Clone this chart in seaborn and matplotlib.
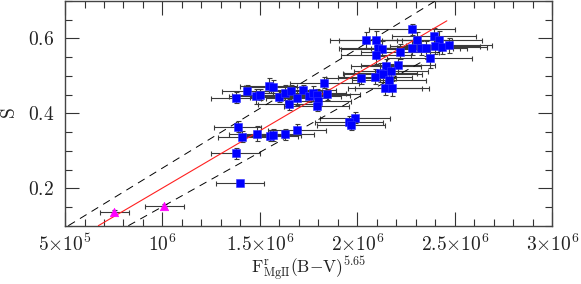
import numpy as np
import matplotlib
matplotlib.use("Agg")
import matplotlib.pyplot as plt
import seaborn as sns
from matplotlib.ticker import MultipleLocator, FixedLocator

# data (x in units of 1e6)
blue_x = [2.045, 2.097, 2.108, 2.126, 2.097, 2.217, 2.280, 2.305, 2.280, 2.325, 2.351, 2.391, 2.421, 2.399,
          2.434, 2.470, 2.370, 2.146, 2.207, 2.117, 2.130, 2.174, 2.088, 2.020, 2.161, 2.143, 2.177,
          1.831, 1.544, 1.569, 1.436, 1.376, 1.481, 1.501, 1.599, 1.629, 1.660, 1.691, 1.723, 1.753,
          1.773, 1.792, 1.845, 1.799, 1.791, 1.650,
          1.989, 1.958, 1.966, 1.385, 1.483, 1.409, 1.550, 1.568, 1.627, 1.689, 1.376, 1.398]
blue_y = [0.596, 0.596, 0.574, 0.572, 0.556, 0.565, 0.624, 0.596, 0.575, 0.575, 0.574, 0.607, 0.596, 0.579,
          0.577, 0.582, 0.547, 0.526, 0.529, 0.509, 0.505, 0.512, 0.498, 0.494, 0.489, 0.469, 0.467,
          0.482, 0.474, 0.470, 0.460, 0.442, 0.445, 0.450, 0.444, 0.455, 0.460, 0.442, 0.462, 0.446,
          0.454, 0.449, 0.451, 0.433, 0.420, 0.424,
          0.388, 0.378, 0.370, 0.364, 0.345, 0.338, 0.340, 0.342, 0.344, 0.356, 0.293, 0.213]
blue_xerr = [0.185, 0.19, 0.20, 0.21, 0.18, 0.20, 0.22, 0.18, 0.21, 0.20, 0.21, 0.215, 0.22, 0.23,
             0.23, 0.22, 0.22, 0.18, 0.19, 0.19, 0.20, 0.19, 0.19, 0.18, 0.19, 0.19, 0.19,
             0.175, 0.145, 0.15, 0.13, 0.127, 0.14, 0.145, 0.15, 0.155, 0.16, 0.16, 0.165, 0.165,
             0.17, 0.17, 0.17, 0.17, 0.165, 0.16,
             0.18, 0.175, 0.175, 0.12, 0.14, 0.125, 0.145, 0.145, 0.15, 0.15, 0.125, 0.125]
blue_yerr = [0.022, 0.025, 0.02, 0.02, 0.025, 0.02, 0.015, 0.02, 0.02, 0.018, 0.02, 0.02, 0.025, 0.02,
             0.018, 0.02, 0.025, 0.02, 0.02, 0.025, 0.02, 0.02, 0.02, 0.015, 0.02, 0.02, 0.02,
             0.015, 0.02, 0.02, 0.015, 0.015, 0.02, 0.015, 0.015, 0.02, 0.015, 0.02, 0.015, 0.015,
             0.02, 0.015, 0.015, 0.015, 0.015, 0.015,
             0.015, 0.015, 0.015, 0.015, 0.02, 0.015, 0.015, 0.015, 0.015, 0.015, 0.015, 0.008]

mag_x = [0.752, 1.010]
mag_y = [0.137, 0.153]
mag_xerr = [0.074, 0.100]
mag_yerr = [0.005, 0.005]

# fit line and its bounds (endpoints)
fit_x = [0.671, 2.459]
fit_y = [0.100, 0.647]
upper_x = [0.517, 2.400]
upper_y = [0.100, 0.700]
lower_x = [0.825, 2.459]
lower_y = [0.100, 0.575]

sns.set_style("ticks")
plt.rcParams["mathtext.fontset"] = "cm"
plt.rcParams["font.family"] = ["DejaVu Serif"]

fig = plt.figure(figsize=(5.81, 2.84), dpi=100)
ax = fig.add_axes([0.1119, 0.2053, 0.8387, 0.7912])

sc = 1e6
bx = np.array(blue_x) * sc
mx = np.array(mag_x) * sc

ax.errorbar(bx, blue_y, xerr=np.array(blue_xerr) * sc, yerr=blue_yerr, fmt="none",
            ecolor="#3a3a3a", elinewidth=0.8, capsize=1.8, capthick=0.8, zorder=2)
ax.errorbar(mx, mag_y, xerr=np.array(mag_xerr) * sc, yerr=mag_yerr, fmt="none",
            ecolor="#3a3a3a", elinewidth=0.8, capsize=1.8, capthick=0.8, zorder=2)

ax.plot(np.array(fit_x) * sc, fit_y, color="#ff2020", lw=0.8, zorder=3)
ax.plot(np.array(upper_x) * sc, upper_y, color="black", lw=0.7, dashes=(8, 6), zorder=3)
ax.plot(np.array(lower_x) * sc, lower_y, color="black", lw=0.7, dashes=(8, 6), zorder=3)

sns.scatterplot(x=bx, y=blue_y, marker="s", s=38, color="#0000ff", edgecolor="#3030ff",
                linewidth=0.4, ax=ax, zorder=4)
sns.scatterplot(x=mx, y=mag_y, marker="^", s=38, color="#ff00ff", edgecolor="#ff00ff",
                linewidth=0.4, ax=ax, zorder=4)

ax.set_xlim(5e5, 3e6)
ax.set_ylim(0.1, 0.7)

xt = [5e5, 1e6, 1.5e6, 2e6, 2.5e6, 3e6]
xt_labels = [r"$5{\times}10^5$", r"$10^6$", r"$1.5{\times}10^6$", r"$2{\times}10^6$",
             r"$2.5{\times}10^6$", r"$3{\times}10^6$"]
ax.xaxis.set_major_locator(FixedLocator(xt))
ax.set_xticklabels(xt_labels)
ax.xaxis.set_minor_locator(MultipleLocator(1e5))
ax.yaxis.set_major_locator(FixedLocator([0.2, 0.4, 0.6]))
ax.set_yticklabels([r"$0.2$", r"$0.4$", r"$0.6$"])
ax.yaxis.set_minor_locator(MultipleLocator(0.05))

ax.tick_params(which="both", direction="in", top=True, right=True, colors="#333333",
               labelcolor="#222222", labelsize=14)
ax.tick_params(which="major", length=10, width=0.8, pad=8)
ax.tick_params(axis="x", which="major", pad=6)
ax.tick_params(which="minor", length=5, width=0.8)
for s in ax.spines.values():
    s.set_color("#444444")
    s.set_linewidth(1.0)

ax.set_xlabel(r"$\mathrm{F^r_{MgII}(B{-}V)^{5.65}}$", fontsize=12.5, color="#222222", labelpad=-1)
ax.set_ylabel(r"$\mathrm{S}$", fontsize=14, color="#222222", labelpad=6)

fig.savefig("out.png", dpi=100)
